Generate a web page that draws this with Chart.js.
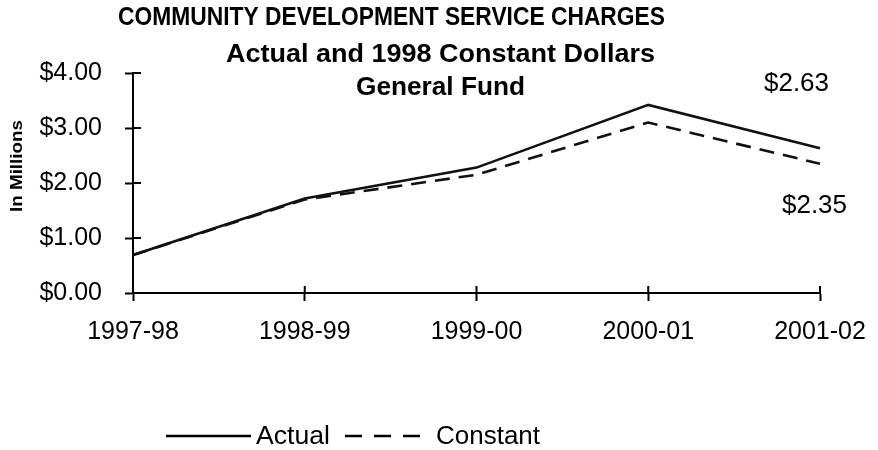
<!DOCTYPE html>
<html>
<head>
<meta charset="utf-8">
<script src="https://cdn.jsdelivr.net/npm/chart.js@4/dist/chart.umd.min.js"></script>
<style>
  html, body { margin: 0; padding: 0; background: #fff; }
  #wrap { width: 878px; height: 450px; position: relative; }
</style>
</head>
<body>
<div id="wrap"><canvas id="chart"></canvas></div>
<script>
// --- datos del gráfico ---
const years = ['1997-98', '1998-99', '1999-00', '2000-01', '2001-02'];
const actualValues = [0.69, 1.72, 2.28, 3.42, 2.63];
const constantValues = [0.69, 1.70, 2.15, 3.10, 2.35];
const yTicks = [0, 1, 2, 3, 4];
const titleLines = ['COMMUNITY DEVELOPMENT SERVICE CHARGES', 'Actual and 1998 Constant Dollars', 'General Fund'];
const endLabels = ['$2.63', '$2.35'];

const FONT = '"Liberation Sans", Arial, sans-serif';
const money = (v) => '$' + Number(v).toFixed(2);

// escribe un texto ajustado al ancho [left, right]
const fillFit = (ctx, text, left, right, y) => {
    const w = ctx.measureText(text).width;
    ctx.save();
    ctx.translate(left, y);
    ctx.scale((right - left) / w, 1);
    ctx.textAlign = 'left';
    ctx.fillText(text, 0, 0);
    ctx.restore();
};

// textos, leyenda y marcas internas de los ejes
const decorPlugin = {
    id: 'decor',
    afterDraw(chart) {
        const ctx = chart.ctx;
        const x = chart.scales.x;
        const y = chart.scales.y;
        ctx.save();
        ctx.fillStyle = '#000';
        ctx.textBaseline = 'middle';

        // títulos
        ctx.font = 'bold 26px ' + FONT;
        fillFit(ctx, titleLines[0], 118, 665, 18);
        fillFit(ctx, titleLines[1], 226, 655, 55);
        fillFit(ctx, titleLines[2], 356, 525, 88);

        // etiquetas finales
        ctx.font = '25px ' + FONT;
        fillFit(ctx, endLabels[0], 764, 829, 84);
        fillFit(ctx, endLabels[1], 782, 847, 206);

        // título del eje Y
        ctx.save();
        ctx.translate(18, 212);
        ctx.rotate(-Math.PI / 2);
        ctx.font = 'bold 16px ' + FONT;
        fillFit(ctx, 'In Millions', 0, 92, 0);
        ctx.restore();

        // marcas que cruzan los ejes
        ctx.strokeStyle = '#000';
        ctx.lineWidth = 2;
        ctx.beginPath();
        yTicks.forEach((v) => {
            const py = y.getPixelForValue(v);
            ctx.moveTo(x.left, py);
            ctx.lineTo(x.left + 8, py);
        });
        years.forEach((_, i) => {
            const px = x.getPixelForValue(i);
            ctx.moveTo(px, y.bottom);
            ctx.lineTo(px, y.bottom - 7);
        });
        ctx.stroke();

        // leyenda
        const ds = chart.data.datasets;
        const ly = 436;
        ctx.font = '26px ' + FONT;
        ctx.lineWidth = 2.5;
        ctx.beginPath();
        ctx.setLineDash([]);
        ctx.moveTo(166, ly);
        ctx.lineTo(251, ly);
        ctx.stroke();
        fillFit(ctx, ds[0].label, 256, 330, ly + 1);
        ctx.beginPath();
        ctx.setLineDash([17, 12]);
        ctx.moveTo(345, ly);
        ctx.lineTo(420, ly);
        ctx.stroke();
        ctx.setLineDash([]);
        fillFit(ctx, ds[1].label, 436, 540, ly + 1);
        ctx.restore();
    }
};

new Chart(document.getElementById('chart'), {
    type: 'line',
    data: {
        labels: years,
        datasets: [
            { label: 'Actual', data: actualValues, borderColor: '#111', borderWidth: 2.6, pointRadius: 0, tension: 0, fill: false },
            { label: 'Constant', data: constantValues, borderColor: '#111', borderWidth: 2.6, borderDash: [15, 9], pointRadius: 0, tension: 0, fill: false }
        ]
    },
    options: {
        responsive: true,
        maintainAspectRatio: false,
        animation: false,
        layout: { padding: { left: 0, right: 58, top: 73, bottom: 0 } },
        plugins: { legend: { display: false }, title: { display: false }, tooltip: { enabled: false } },
        scales: {
            x: {
                offset: false,
                afterFit: (s) => { s.height = 157; s.paddingLeft = 0; s.paddingRight = 0; },
                grid: { drawOnChartArea: false, drawTicks: true, tickLength: 8, tickColor: '#000', tickWidth: 2 },
                border: { color: '#000', width: 2 },
                ticks: { color: '#000', font: { family: FONT, size: 25 }, padding: 16, maxRotation: 0, autoSkip: false }
            },
            y: {
                min: 0,
                max: 4,
                afterFit: (s) => { s.width = 133; },
                afterBuildTicks: (s) => { s.ticks = yTicks.map((v) => ({ value: v })); },
                grid: { drawOnChartArea: false, drawTicks: true, tickLength: 8, tickColor: '#000', tickWidth: 2 },
                border: { color: '#000', width: 2 },
                ticks: { color: '#000', font: { family: FONT, size: 25 }, padding: 23, callback: (v) => money(v) }
            }
        }
    },
    plugins: [decorPlugin]
});
</script>
</body>
</html>
